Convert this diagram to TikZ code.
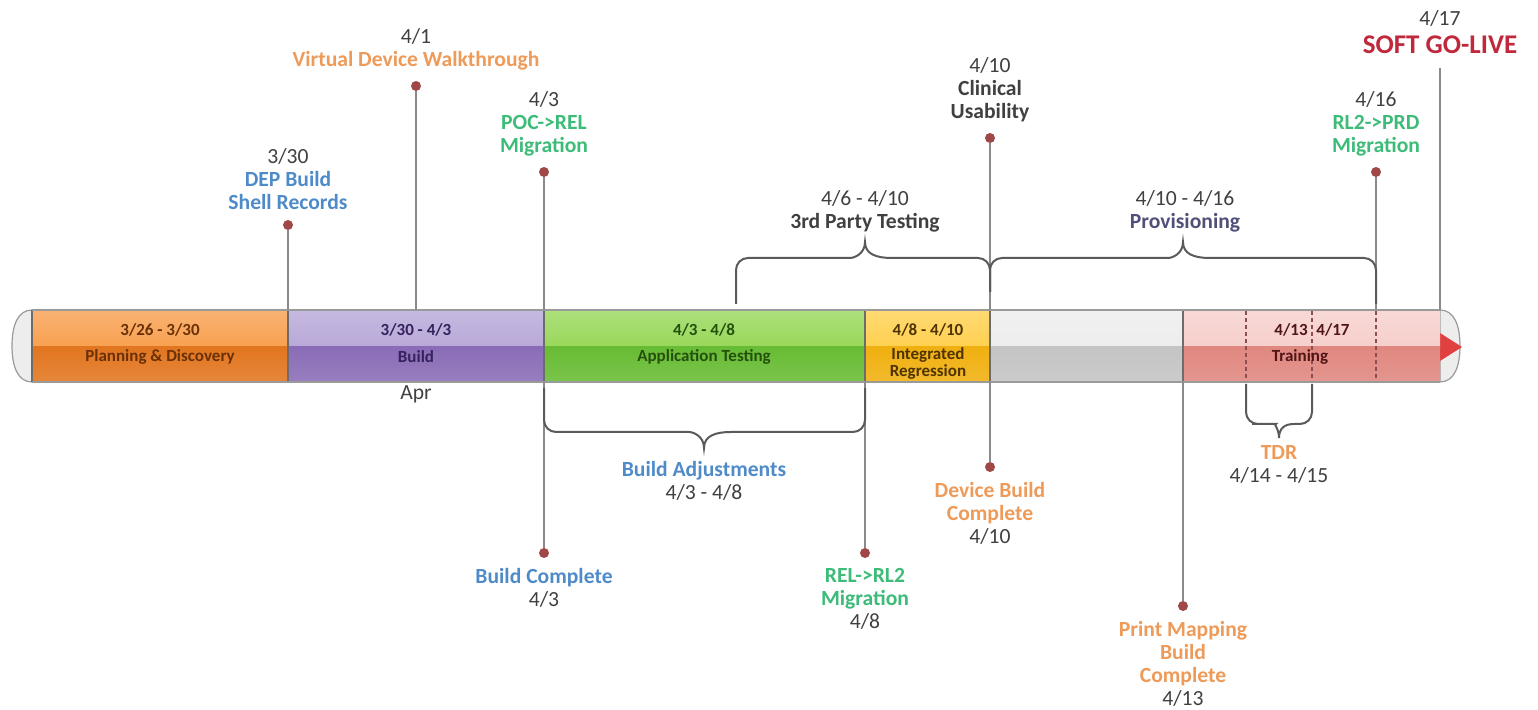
\documentclass[tikz,border=0pt]{standalone}
\usepackage{fontspec}
\setmainfont{Carlito}
\usetikzlibrary{positioning}

\definecolor{msgray}{HTML}{404040}
\definecolor{msblue}{HTML}{4F8BC9}
\definecolor{msorange}{HTML}{EE9A58}
\definecolor{msgreen}{HTML}{3DBB78}
\definecolor{msslate}{HTML}{50507A}
\definecolor{golivered}{HTML}{C0283C}
\definecolor{dotred}{HTML}{A04848}
\definecolor{stemgray}{HTML}{8A8A8A}
\definecolor{bracegray}{HTML}{5A5A5A}
\definecolor{bargray}{HTML}{9A9A9A}
\definecolor{dashred}{HTML}{8A5050}
\definecolor{orgL}{HTML}{F8A050}\definecolor{orgD}{HTML}{E27620}\definecolor{orgT}{HTML}{6A3006}
\definecolor{purL}{HTML}{B8A8D8}\definecolor{purD}{HTML}{8A6CB6}\definecolor{purT}{HTML}{34225E}
\definecolor{grnL}{HTML}{98D85A}\definecolor{grnD}{HTML}{68BC34}\definecolor{grnT}{HTML}{24500C}
\definecolor{ylwL}{HTML}{FFD050}\definecolor{ylwD}{HTML}{F0B010}\definecolor{ylwT}{HTML}{503400}
\definecolor{gryL}{HTML}{EDEDED}\definecolor{gryD}{HTML}{C4C4C4}\definecolor{gryT}{HTML}{404040}
\definecolor{pnkL}{HTML}{F6CFCC}\definecolor{pnkD}{HTML}{E08880}\definecolor{pnkT}{HTML}{501616}
\definecolor{arrowred}{HTML}{E04040}

\newcommand{\tldate}[1]{\textcolor{msgray}{\mdseries #1}}

\begin{document}
\begin{tikzpicture}[
  x=0.5pt,y=-0.5pt,
  font=\bfseries\fontsize{10.8}{11.5}\selectfont,
  lbl/.style={align=center,inner sep=1pt},
  seglbl/.style={font=\bfseries\fontsize{8.5}{8.5}\selectfont,inner sep=0pt,align=center},
  dot/.style={circle,fill=dotred,inner sep=0pt,minimum size=5pt},
  stem/.style={draw=stemgray,line width=1pt},
  brc/.style={draw=bracegray,line width=1pt,rounded corners=6pt},
  dashln/.style={draw=dashred,line width=0.6pt,dash pattern=on 2pt off 1.5pt}
]
\useasboundingbox (0,0) rectangle (1538,710);

% the bar
\coordinate (bartop) at (0,310);
\coordinate (barbot) at (0,382);
\filldraw[fill=gryL,draw=bargray,line width=0.6pt]
  (32,310) .. controls (18,310) and (12,325) .. (12,346)
  .. controls (12,367) and (18,382) .. (32,382) -- cycle;
\filldraw[fill=gryL,draw=bargray,line width=0.6pt]
  (1440,310) .. controls (1454,310) and (1460,325) .. (1460,346)
  .. controls (1460,367) and (1454,382) .. (1440,382) -- cycle;
\fill[arrowred] (1440,333) -- (1462,347) -- (1440,361) -- cycle;
\foreach \xa/\xb/\cl in {32/288/org,288/544/pur,544/865/grn,865/990/ylw,990/1183/gry,1183/1440/pnk}{
  \shade[top color=\cl L!80!white,bottom color=\cl L] (\xa,310) rectangle (\xb,347);
  \shade[top color=\cl D,bottom color=\cl D!88!white] (\xa,347) rectangle (\xb,382);
  \draw[bargray!70!black,line width=0.6pt] (\xa,310) -- (\xa,382);
}
\draw[bargray,line width=0.9pt] (32,310) -- (1440,310) (32,382) -- (1440,382);
\foreach \xd in {1246,1312,1376}
  \draw[dashln] (\xd,311) -- (\xd,381);

% phase labels
\node[seglbl,text=orgT] (p1a) at (160,330) {3/26 - 3/30};
\node[seglbl,text=orgT] (p1b) at (160,357) {Planning \& Discovery};
\node[seglbl,text=purT] (p2a) at (416,330) {3/30 - 4/3};
\node[seglbl,text=purT] (p2b) at (416,357) {Build};
\node[seglbl,text=grnT] (p3a) at (704,330) {4/3 - 4/8};
\node[seglbl,text=grnT] (p3b) at (704,357) {Application Testing};
\node[seglbl,text=ylwT] (p4a) at (928,330) {4/8 - 4/10};
\node[seglbl,text=ylwT] (p4b) at (928,363) {Integrated\\Regression};
\node[seglbl,text=pnkT,anchor=east] (p6a) at (1308,330) {4/13};
\node[seglbl,text=pnkT,anchor=west] (p6b) at (1316,330) {4/17};
\node[seglbl,text=pnkT] (p6c) at (1300,357) {Training};
\node[lbl,text=msgray,font=\fontsize{10.8}{11.5}\selectfont] (apr) at (416,394) {Apr};

% milestones above the bar
\node[dot] (m330) at (288,225) {};
\node[lbl,text=msblue,above=4pt of m330] (l330) {\tldate{3/30}\\DEP Build\\Shell Records};
\node[dot] (m41) at (416,86) {};
\node[lbl,text=msorange,above=4pt of m41] (l41) {\tldate{4/1}\\Virtual Device Walkthrough};
\node[dot] (m43a) at (544,172) {};
\node[lbl,text=msgreen,above=4pt of m43a] (l43a) {\tldate{4/3}\\POC->REL\\Migration};
\node[dot] (m410a) at (990,138) {};
\node[lbl,text=msgray,above=4pt of m410a] (l410a) {\tldate{4/10}\\Clinical\\Usability};
\node[dot] (m416) at (1376,172) {};
\node[lbl,text=msgreen,above=4pt of m416] (l416) {\tldate{4/16}\\RL2->PRD\\Migration};
\coordinate (golive) at (1440,68);
\node[lbl,text=golivered,font=\bfseries\fontsize{13.5}{15}\selectfont,above=6pt of golive] (lgl) {SOFT GO-LIVE};
\node[lbl,above=2pt of lgl] (lgld) {\tldate{4/17}};
\foreach \m in {m330,m41,m43a,m410a,m416}
  \draw[stem] (\m) -- (\m |- bartop);
\draw[stem] (golive) -- (golive |- bartop);

% milestones below the bar
\node[dot] (m43b) at (544,553) {};
\node[lbl,text=msblue,below=4pt of m43b] (l43b) {Build Complete\\\tldate{4/3}};
\node[dot] (m48) at (865,553) {};
\node[lbl,text=msgreen,below=4pt of m48] (l48) {REL->RL2\\Migration\\\tldate{4/8}};
\node[dot] (m410b) at (990,467) {};
\node[lbl,text=msorange,below=4pt of m410b] (l410b) {Device Build\\Complete\\\tldate{4/10}};
\node[dot] (m413) at (1183,606) {};
\node[lbl,text=msorange,below=4pt of m413] (l413) {Print Mapping\\Build\\Complete\\\tldate{4/13}};
\foreach \m in {m43b,m48,m410b,m413}
  \draw[stem] (\m |- barbot) -- (\m);

% braces
\draw[brc] (736,304) |- (838,258) [sharp corners] .. controls (854,258) and (865,254) .. (865,242)
  .. controls (865,254) and (876,258) .. (892,258) [rounded corners=6pt] -| (990,292);
\draw[brc] (990,292) |- (1156,258) [sharp corners] .. controls (1172,258) and (1183,254) .. (1183,242)
  .. controls (1183,254) and (1194,258) .. (1210,258) [rounded corners=6pt] -| (1376,304);
\draw[brc] (544,388) |- (677,432) [sharp corners] .. controls (693,432) and (704,436) .. (704,448)
  .. controls (704,436) and (715,432) .. (731,432) [rounded corners=6pt] -| (865,388);
\draw[brc] (1246,384) |- (1264,424) [sharp corners] .. controls (1273,424) and (1279,428) .. (1279,438)
  .. controls (1279,428) and (1285,424) .. (1294,424) [rounded corners=6pt] -| (1312,384);
\node[lbl,text=msgray] (b3p) at (865,211) {\tldate{4/6 - 4/10}\\3rd Party Testing};
\node[lbl,text=msslate] (bprov) at (1185,211) {\tldate{4/10 - 4/16}\\Provisioning};
\node[lbl,text=msblue] (badj) at (704,481) {Build Adjustments\\\tldate{4/3 - 4/8}};
\node[lbl,text=msorange] (btdr) at (1279,464) {TDR\\\tldate{4/14 - 4/15}};
\end{tikzpicture}
\end{document}
